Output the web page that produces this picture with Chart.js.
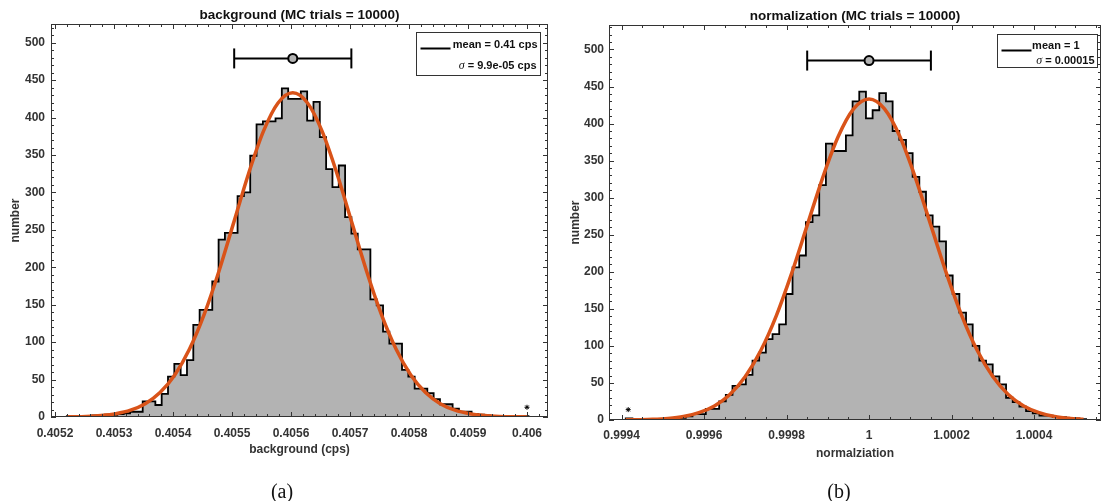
<!DOCTYPE html>
<html>
<head>
<meta charset="utf-8">
<script src="https://cdn.jsdelivr.net/npm/chart.js@4.4.1/dist/chart.umd.min.js"></script>
<style>
body{margin:0;background:#fff;width:1103px;height:501px;overflow:hidden;position:relative}
#left{position:absolute;left:0;top:0;width:551px;height:501px}
#right{position:absolute;left:551px;top:0;width:552px;height:501px}
.cap{position:absolute;top:479px;width:60px;text-align:center;line-height:24px;font-family:"Liberation Serif","DejaVu Serif",serif;font-size:20px;color:#111}
</style>
</head>
<body>
<div id="left"><canvas id="bgChart" width="551" height="501"></canvas></div>
<div id="right"><canvas id="normChart" width="552" height="501"></canvas></div>
<div class="cap" style="left:252px">(a)</div>
<div class="cap" style="left:809px">(b)</div>
<script>
// ---------- (a) background ----------
var bgCounts = [1, 0, 1, 1, 2, 1, 3, 3, 4, 5, 7, 7, 21, 21, 16, 31, 54, 71, 56, 76,
	123, 143, 143, 181, 237, 246, 246, 295, 300, 349, 391, 395, 395, 399, 439, 425, 425, 435, 396, 421,
	374, 331, 307, 336, 267, 245, 224, 224, 157, 149, 114, 98, 98, 63, 54, 38, 38, 32, 24, 17,
	17, 11, 7, 7, 4, 3, 2, 1, 1, 0, 1, 0, 1];
var bgBinStart = 0.40522;
var bgBinWidth = 0.00001072;
var bgFitX = [0.40522, 0.405228, 0.405253, 0.405278, 0.405303, 0.405328, 0.405353, 0.405378, 0.405403, 0.405428,
	0.405453, 0.405478, 0.405503, 0.405528, 0.405553, 0.405578, 0.405603, 0.405628, 0.405653, 0.405678,
	0.405703, 0.405728, 0.405753, 0.405778, 0.405803, 0.405828, 0.405853, 0.405878, 0.405903, 0.405928,
	0.405953, 0.405978, 0.406];
var bgFitY = [0.2, 0.3, 0.8, 2.0, 4.4, 9.1, 17.8, 32.7, 56.2, 90.8, 137.4, 195.1, 260, 325, 381.2, 419.4,
	433, 419.4, 381.2, 325, 260, 195.1, 137.4, 90.8, 56.2, 32.7, 17.8, 9.1, 4.4, 2.0, 0.8, 0.3, 0.15];
var bgMean = 0.405603;
var bgSigma = 0.0000993;
var bgBarLevel = 479;
var bgOutlier = {x: 0.406, y: 13};
var bgTickLabels = ['0.4052', '0.4053', '0.4054', '0.4055', '0.4056', '0.4057', '0.4058', '0.4059', '0.406'];

// ---------- (b) normalization ----------
var normCounts = [2, 0, 0, 0, 0, 1, 1, 2, 3, 5, 8, 8, 15, 15, 25, 34, 46, 48, 61, 80,
	91, 109, 116, 129, 170, 206, 222, 267, 276, 317, 373, 363, 363, 384, 430, 443, 407, 418, 441, 430,
	390, 378, 360, 328, 308, 276, 261, 241, 195, 170, 145, 129, 100, 80, 75, 59, 48, 30, 24, 18,
	12, 9, 6, 6, 4, 4, 2, 2, 1];
var normBinStart = 0.99941;
var normBinWidth = 0.00001618;
var normFitX = [0.99941, 0.9994375, 0.999475, 0.9995125, 0.99955, 0.9995875, 0.999625, 0.9996625, 0.9997, 0.9997375,
	0.999775, 0.9998125, 0.99985, 0.9998875, 0.999925, 0.9999625, 1.0, 1.0000375, 1.000075, 1.0001125,
	1.00015, 1.0001875, 1.000225, 1.0002625, 1.0003, 1.0003375, 1.000375, 1.0004125, 1.00045, 1.0004875, 1.00052];
var normFitY = [0.2, 0.4, 0.9, 2.2, 4.8, 9.9, 19.0, 34.5, 58.6, 93.7, 140.6, 198.2, 262.6, 326.8, 382.1, 419.7,
	433, 419.7, 382.1, 326.8, 262.6, 198.2, 140.6, 93.7, 58.6, 34.5, 19.0, 9.9, 4.8, 2.2, 1.0];
var normMean = 1.0;
var normSigma = 0.00015;
var normBarLevel = 485;
var normOutlier = {x: 0.999416, y: 14};
var normTickLabels = ['0.9994', '0.9996', '0.9998', '1', '1.0002', '1.0004'];

var countTicks = [0, 50, 100, 150, 200, 250, 300, 350, 400, 450, 500];

var FONT = "'Liberation Sans', Arial, Helvetica, sans-serif";
var GRAY = '#b3b3b3';
var ORANGE = '#d95319';

function histPoints(counts, start, width) {
	var pts = [{x: start, y: 0}];
	counts.forEach(function (c, i) {
		pts.push({x: start + i * width, y: c});
	});
	var end = start + counts.length * width;
	pts.push({x: end, y: counts[counts.length - 1]});
	pts.push({x: end, y: 0});
	return pts;
}

function zip(xs, ys) {
	return xs.map(function (x, i) { return {x: x, y: ys[i]}; });
}

// frame, inward ticks on all four sides, and the boxed legend
var panelPlugin = {
	id: 'panel',
	afterDatasetsDraw: function (chart, args, o) {
		var ctx = chart.ctx, a = chart.chartArea;
		var xs = chart.scales.x, ys = chart.scales.y;
		ctx.save();
		ctx.strokeStyle = '#333';
		ctx.lineWidth = 1;
		ctx.beginPath();
		function xTicks(step, len) {
			for (var k = Math.ceil(xs.min / step - 1e-7); k * step <= xs.max + 1e-12; k++) {
				var px = Math.round(xs.getPixelForValue(k * step)) + 0.5;
				ctx.moveTo(px, a.bottom); ctx.lineTo(px, a.bottom - len);
				ctx.moveTo(px, a.top); ctx.lineTo(px, a.top + len);
			}
		}
		function yTicks(step, len) {
			for (var k = Math.ceil(ys.min / step); k * step <= ys.max; k++) {
				var py = Math.round(ys.getPixelForValue(k * step)) + 0.5;
				ctx.moveTo(a.left, py); ctx.lineTo(a.left + len, py);
				ctx.moveTo(a.right, py); ctx.lineTo(a.right - len, py);
			}
		}
		xTicks(o.xMinor, 3);
		xTicks(o.xMajor, 5);
		yTicks(10, 3);
		yTicks(50, 5);
		ctx.stroke();
		ctx.strokeRect(Math.round(a.left) + 0.5, Math.round(a.top) + 0.5,
			Math.round(a.right - a.left) - 1, Math.round(a.bottom - a.top) - 1);

		// legend box
		var L = o.legend;
		var bx = Math.round(a.right - L.right - L.w) + 0.5, by = Math.round(a.top + L.top) + 0.5;
		ctx.fillStyle = '#fff';
		ctx.fillRect(bx, by, L.w, L.h);
		ctx.strokeStyle = '#333';
		ctx.lineWidth = 1;
		ctx.strokeRect(bx, by, L.w, L.h);
		ctx.strokeStyle = '#000';
		ctx.lineWidth = 2;
		ctx.beginPath();
		ctx.moveTo(bx + L.lineX0, by + L.lineY);
		ctx.lineTo(bx + L.lineX1, by + L.lineY);
		ctx.stroke();
		ctx.fillStyle = '#111';
		ctx.textAlign = 'right';
		ctx.textBaseline = 'middle';
		L.rows.forEach(function (r) {
			var rx = bx + L.w - r.dx, ry = by + r.dy;
			ctx.font = 'bold 11px ' + FONT;
			ctx.fillText(r.text, rx, ry);
			if (r.sym) {
				var w = ctx.measureText(r.text).width;
				ctx.font = 'italic 12px "Liberation Serif", "DejaVu Serif", serif';
				ctx.fillText(r.sym, rx - w, ry);
			}
		});
		ctx.restore();
	}
};

function makePanel(id, p) {
	var tickFont = {family: FONT, size: 12, weight: 'bold'};
	return new Chart(document.getElementById(id), {
		type: 'scatter',
		data: {
			datasets: [{
				// error bar: mean +/- sigma
				data: [{x: p.mean - p.sigma, y: p.barLevel}, {x: p.mean + p.sigma, y: p.barLevel}],
				showLine: true,
				borderColor: '#000',
				borderWidth: 2,
				pointStyle: 'line',
				rotation: 90,
				pointRadius: 10,
				pointBorderWidth: 2,
				pointBorderColor: '#000',
				order: 0
			}, {
				data: [{x: p.mean, y: p.barLevel}],
				pointRadius: 4.5,
				pointBackgroundColor: GRAY,
				pointBorderColor: '#000',
				pointBorderWidth: 2,
				order: -1
			}, {
				data: [p.outlier],
				pointStyle: 'star',
				pointRadius: 2.5,
				pointBorderColor: '#000',
				pointBorderWidth: 1,
				order: 1
			}, {
				// gaussian fit
				data: zip(p.fitX, p.fitY),
				showLine: true,
				borderColor: ORANGE,
				borderWidth: 3.5,
				cubicInterpolationMode: 'monotone',
				pointRadius: 0,
				order: 2
			}, {
				// histogram
				data: histPoints(p.counts, p.binStart, p.binWidth),
				showLine: true,
				stepped: true,
				fill: 'origin',
				backgroundColor: GRAY,
				borderColor: '#000',
				borderWidth: 1.8,
				pointRadius: 0,
				order: 3
			}]
		},
		options: {
			responsive: false,
			animation: false,
			devicePixelRatio: 1,
			events: [],
			layout: {padding: p.pad, autoPadding: false},
			plugins: {
				legend: {display: false},
				tooltip: {enabled: false},
				title: {
					display: true,
					fullSize: false,
					text: p.title,
					color: '#111',
					font: {family: FONT, size: 13.5, weight: 'bold'},
					padding: p.titlePad
				},
				panel: {xMajor: p.xMajor, xMinor: p.xMinor, legend: p.legend}
			},
			scales: {
				x: {
					type: 'linear',
					min: p.xMin,
					max: p.xMax,
					grid: {display: false, drawTicks: false},
					border: {display: false},
					afterBuildTicks: function (s) {
						s.ticks = p.tickLabels.map(function (t) { return {value: Number(t)}; });
					},
					afterFit: function (s) {
						s.height = p.xHeight;
						s.paddingLeft = 0;
						s.paddingRight = 0;
					},
					ticks: {
						autoSkip: false,
						maxRotation: 0,
						padding: p.xPad,
						color: '#333',
						font: tickFont,
						callback: function (v) {
							for (var i = 0; i < p.tickLabels.length; i++) {
								if (Number(p.tickLabels[i]) === v) return p.tickLabels[i];
							}
							return '';
						}
					},
					title: {display: true, text: p.xTitle, color: '#333', font: tickFont}
				},
				y: {
					type: 'linear',
					min: 0,
					max: p.yMax,
					grid: {display: false, drawTicks: false},
					border: {display: false},
					afterBuildTicks: function (s) {
						s.ticks = countTicks.map(function (v) { return {value: v}; });
					},
					afterFit: function (s) {
						s.width = p.yWidth;
						s.paddingTop = 0;
						s.paddingBottom = 0;
					},
					ticks: {padding: p.yPad, color: '#333', font: tickFont},
					title: {display: true, text: 'number', color: '#333', font: tickFont}
				}
			}
		},
		plugins: [panelPlugin]
	});
}

makePanel('bgChart', {
	counts: bgCounts, binStart: bgBinStart, binWidth: bgBinWidth,
	fitX: bgFitX, fitY: bgFitY,
	mean: bgMean, sigma: bgSigma, barLevel: bgBarLevel, outlier: bgOutlier,
	tickLabels: bgTickLabels,
	title: 'background (MC trials = 10000)',
	xTitle: 'background (cps)',
	xMin: 0.4051932, xMax: 0.4060356, yMax: 525,
	xMajor: 0.0001, xMinor: 0.00002,
	pad: {left: 4, right: 3, top: 0, bottom: 40},
	titlePad: {top: 6.7, bottom: 1.1},
	xHeight: 44, xPad: 9, yWidth: 47, yPad: 6,
	legend: {
		right: 8, top: 8, w: 124, h: 43,
		lineX0: 4, lineX1: 34, lineY: 16,
		rows: [
			{sym: '', text: 'mean = 0.41 cps', dx: 3, dy: 12},
			{sym: '\u03c3', text: ' = 9.9e-05 cps', dx: 4, dy: 33}
		]
	}
});

makePanel('normChart', {
	counts: normCounts, binStart: normBinStart, binWidth: normBinWidth,
	fitX: normFitX, fitY: normFitY,
	mean: normMean, sigma: normSigma, barLevel: normBarLevel, outlier: normOutlier,
	tickLabels: normTickLabels,
	title: 'normalization (MC trials = 10000)',
	xTitle: 'normalziation',
	xMin: 0.9993694, xMax: 1.0005625, yMax: 533,
	xMajor: 0.0002, xMinor: 0.00005,
	pad: {left: 13, right: 2, top: 0, bottom: 36},
	titlePad: {top: 8, bottom: 0.8},
	xHeight: 45, xPad: 8, yWidth: 45, yPad: 5,
	legend: {
		right: 4, top: 9, w: 100, h: 33,
		lineX0: 4, lineX1: 34, lineY: 16,
		rows: [
			{sym: '', text: 'mean = 1', dx: 18, dy: 11},
			{sym: '\u03c3', text: ' = 0.00015', dx: 3, dy: 26}
		]
	}
});
</script>
</body>
</html>
